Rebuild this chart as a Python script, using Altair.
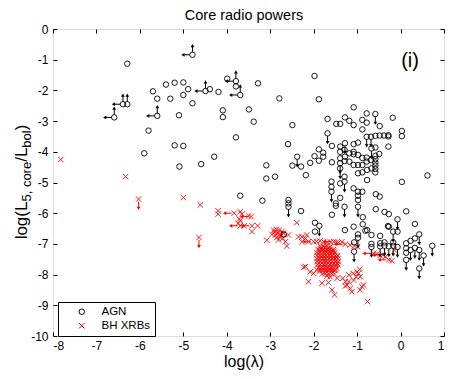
import altair as alt
import pandas as pd

# ---------------- data ----------------
# AGN: (log lambda, log L5core/Lbol, limit flag)  flags: d=upper limit, u=lower limit, l=left
agn_points = [
    (-6.29,-1.13,""),(-6.59,-2.88,"lu"),(-6.39,-2.45,"lu"),(-6.29,-2.45,"u"),(-5.60,-2.83,"lu"),
    (-5.90,-4.05,""),(-5.80,-3.31,""),(-5.70,-2.03,""),(-5.60,-2.27,""),(-5.40,-1.81,""),
    (-5.30,-2.27,""),(-5.20,-1.75,""),(-5.10,-2.81,""),(-5.20,-3.79,""),(-5.00,-3.81,""),
    (-5.09,-4.48,""),(-5.00,-1.74,""),(-4.89,-1.96,""),(-5.00,-2.15,""),(-4.79,-2.42,""),
    (-4.79,-0.84,"lu"),(-4.49,-2.02,"lu"),(-4.39,-1.96,""),(-4.19,-2.05,""),(-4.59,-4.40,""),
    (-4.29,-4.16,""),(-4.09,-2.65,""),(-4.09,-2.87,""),(-3.99,-1.62,""),(-3.79,-1.70,"lu"),
    (-3.79,-1.87,""),(-3.69,-2.15,"lu"),(-3.49,-2.62,""),(-3.79,-3.53,""),(-3.69,-5.43,""),
    (-3.28,-1.77,""),(-3.38,-3.02,""),(-3.18,-5.59,""),(-3.09,-4.44,""),(-3.09,-4.87,""),
    (-2.89,-4.81,""),(-2.79,-2.26,""),(-2.59,-3.75,""),(-2.49,-3.13,""),(-2.49,-4.45,""),
    (-2.38,-4.16,"d"),(-2.29,-4.48,""),(-2.18,-4.76,""),(-2.58,-5.57,""),(-2.58,-5.68,""),
    (-2.58,-5.79,"d"),(-2.29,-5.93,""),(-1.98,-1.53,""),(-1.88,-2.29,""),(-1.68,-2.93,""),
    (-1.68,-3.40,"d"),(-1.58,-3.81,""),(-1.48,-3.09,""),(-1.39,-3.09,""),(-1.28,-2.88,""),
    (-1.18,-2.99,""),(-1.08,-3.13,""),(-1.08,-2.55,""),(-0.88,-2.96,""),(-0.78,-3.05,""),
    (-0.78,-2.75,""),(-0.58,-2.77,"d"),(-0.48,-3.16,""),(-0.18,-2.89,""),(-0.88,-3.27,""),
    (-0.78,-3.51,"d"),(-0.68,-3.51,"d"),(-0.58,-3.48,""),(-0.48,-3.47,""),(-0.38,-3.47,""),
    (-0.28,-3.46,""),(-0.28,-3.50,""),(0.03,-3.32,""),(0.03,-3.49,""),(-0.28,-3.83,""),
    (-0.58,-3.86,""),(-0.98,-3.70,""),(-1.08,-3.75,""),(-1.39,-3.83,""),(-1.28,-3.72,"d"),
    (-1.39,-4.00,""),(-1.29,-3.94,""),(-1.08,-4.08,""),(-1.18,-4.05,""),(-1.28,-4.16,""),
    (-1.39,-4.21,""),(-1.39,-4.37,"d"),(-1.29,-4.30,""),(-1.98,-4.14,""),(-1.88,-4.29,""),
    (-1.78,-4.16,""),(-1.78,-4.03,""),(-1.88,-3.92,""),(-2.08,-4.36,""),(-1.58,-4.34,""),
    (-1.18,-4.32,""),(-1.08,-4.43,""),(-0.98,-4.43,""),(-0.88,-4.43,""),(-0.78,-4.32,""),
    (-0.68,-4.27,""),(-1.08,-4.00,""),(-0.98,-4.10,""),(-0.88,-4.20,""),(-0.78,-4.19,""),
    (-0.58,-4.13,""),(-0.58,-4.24,""),(-0.58,-4.35,""),(-0.58,-4.45,""),(-0.58,-4.56,""),
    (-0.58,-4.67,""),(-0.49,-4.07,""),(-0.67,-3.89,"d"),(-0.77,-4.59,""),(-0.67,-4.54,""),
    (-0.98,-4.70,""),(-0.88,-4.67,""),(-0.77,-4.92,""),(0.03,-4.98,""),(0.62,-4.77,""),
    (-1.39,-4.54,"d"),(-1.29,-4.81,""),(-1.29,-4.97,"d"),(-1.39,-5.03,""),(-1.59,-4.97,""),
    (-1.59,-5.14,""),(-1.59,-5.30,"d"),(-1.08,-5.19,""),(-0.98,-5.30,""),(-0.98,-5.43,""),
    (-0.98,-5.57,""),(-0.98,-5.79,"d"),(-0.88,-5.30,""),(-1.39,-5.50,""),(-1.49,-5.68,""),
    (-1.49,-5.76,""),(-1.29,-5.79,"d"),(-1.58,-6.05,""),(-0.57,-5.38,""),(-0.48,-5.46,""),
    (-0.57,-5.87,""),(-0.37,-5.96,""),(-0.27,-6.03,""),(0.13,-5.94,""),(-1.97,-6.31,""),
    (-1.97,-6.60,""),(-1.87,-6.41,"d"),(-1.28,-6.55,""),(-1.08,-6.44,""),(-0.98,-6.69,""),
    (-0.87,-6.36,""),(-0.77,-6.55,""),(-0.67,-6.71,""),(-0.87,-6.13,""),(-0.27,-6.44,""),
    (-0.47,-6.74,""),(-0.17,-6.60,"d"),(-0.07,-6.60,""),(-0.07,-6.20,"d"),(0.33,-6.35,""),
    (0.43,-6.69,"d"),(0.13,-6.98,""),(0.23,-6.90,""),(0.33,-6.82,""),(0.13,-7.14,""),
    (0.13,-7.29,""),(0.13,-7.52,"d"),(0.23,-7.20,"d"),(0.33,-7.13,"d"),(0.43,-7.20,"d"),
    (0.43,-7.80,"d"),(0.53,-7.38,"d"),(0.73,-7.06,"d"),(-1.07,-6.95,""),(-1.07,-7.25,"d"),
    (-0.98,-6.80,"d"),(-0.67,-7.00,""),(-0.67,-7.10,"d"),(-0.47,-6.98,""),(-0.47,-7.08,"d"),
    (-0.37,-6.95,""),(-0.37,-7.06,"d"),(-0.27,-7.08,"d"),(-0.17,-6.95,""),(-0.17,-7.06,"d"),
    (-0.07,-7.10,"d"),(-0.29,-6.42,""),(-0.81,-6.57,""),(-2.69,-6.69,""),
]

# BH XRBs: scattered points (with limit flags)
xrb_points = [
    (-7.82,-4.25,""),(-6.33,-4.81,""),(-6.03,-5.54,"d"),(-5.00,-5.49,""),(-4.61,-5.73,""),
    (-4.64,-6.79,"d"),(-4.20,-5.92,""),(-4.20,-6.03,""),(-3.83,-6.00,"l"),(-3.69,-5.95,""),
    (-3.65,-6.02,""),(-3.71,-6.19,""),(-3.69,-6.24,""),(-3.74,-6.33,""),(-3.69,-6.41,"l"),
    (-3.60,-6.41,""),(-3.50,-6.09,""),(-3.44,-6.11,"l"),(-3.42,-6.41,"l"),(-3.29,-6.41,""),
    (-3.42,-6.60,""),(-3.08,-6.88,""),
    (-2.96,-6.69,""),(-2.92,-6.55,""),(-2.86,-6.53,""),(-2.82,-6.65,""),(-2.77,-6.77,""),
    (-2.73,-6.60,""),(-2.71,-6.82,""),(-2.65,-6.93,""),(-2.62,-7.07,""),(-2.58,-6.71,""),
    (-2.81,-6.87,""),(-2.88,-6.71,""),(-2.79,-6.55,""),(-2.69,-6.65,""),(-2.85,-6.79,""),
    (-2.75,-6.70,""),(-2.90,-6.62,""),
    (-2.39,-6.31,""),(-2.35,-6.77,""),(-2.27,-6.77,""),(-2.27,-6.93,""),(-2.12,-6.93,""),
    (-2.19,-6.82,""),(-2.16,-6.71,""),
    (-2.00,-6.93,"l"),(-1.93,-6.92,""),(-1.85,-6.90,""),(-1.77,-6.93,""),(-1.69,-6.95,""),
    (-1.61,-6.94,""),(-1.54,-6.93,"l"),(-1.48,-6.95,""),(-1.43,-6.96,""),(-1.35,-6.93,""),
    (-1.27,-7.01,"l"),(-1.16,-7.04,""),(-1.06,-7.07,""),(-0.99,-7.09,""),
    (-2.23,-7.76,""),(-2.19,-7.74,""),(-2.08,-7.91,""),(-2.00,-7.96,""),(-2.12,-8.23,""),
    (-1.81,-8.28,""),(-1.66,-8.26,""),(-1.58,-8.50,""),(-1.52,-8.66,""),(-1.46,-8.12,""),
    (-1.93,-7.85,""),(-1.69,-8.05,""),(-1.62,-8.07,""),
    (-1.33,-8.12,""),(-1.27,-8.23,""),(-1.23,-8.34,""),(-1.16,-8.45,""),(-1.12,-8.56,""),
    (-1.08,-8.18,""),(-1.02,-8.07,""),(-0.97,-7.96,""),(-0.94,-7.83,""),(-0.93,-8.07,""),
    (-0.89,-8.39,""),(-0.85,-8.34,""),(-1.19,-8.01,""),(-1.09,-7.96,""),(-1.00,-7.91,""),
    (-1.27,-8.37,""),(-1.19,-8.23,""),(-0.93,-8.50,""),(-0.76,-8.88,""),
    (-0.62,-7.31,"l"),(-0.55,-7.33,""),(-0.47,-7.38,""),(-0.40,-7.36,"l"),(-0.35,-7.42,""),
    (-0.27,-7.52,"l"),(-0.20,-7.55,""),(-0.14,-7.20,""),
]

# BH XRBs: the dense core of observations near log(lambda) ~ -1.7
xrb_core = [
    (-1.85,-7.08),(-1.78,-7.08),(-1.70,-7.06),(-1.62,-7.09),
    (-1.90,-7.18),(-1.83,-7.17),(-1.76,-7.18),(-1.69,-7.16),(-1.62,-7.18),(-1.55,-7.19),
    (-1.93,-7.28),(-1.86,-7.27),(-1.79,-7.28),(-1.72,-7.26),(-1.65,-7.28),(-1.58,-7.27),(-1.51,-7.29),
    (-1.92,-7.38),(-1.85,-7.37),(-1.78,-7.38),(-1.71,-7.36),(-1.64,-7.38),(-1.57,-7.37),(-1.50,-7.39),(-1.45,-7.38),
    (-1.93,-7.48),(-1.86,-7.47),(-1.79,-7.48),(-1.72,-7.46),(-1.65,-7.48),(-1.58,-7.47),(-1.51,-7.49),(-1.44,-7.48),
    (-1.92,-7.58),(-1.85,-7.57),(-1.78,-7.58),(-1.71,-7.56),(-1.64,-7.58),(-1.57,-7.57),(-1.50,-7.59),(-1.43,-7.58),
    (-1.91,-7.68),(-1.84,-7.67),(-1.77,-7.68),(-1.70,-7.66),(-1.63,-7.68),(-1.56,-7.67),(-1.49,-7.69),(-1.44,-7.68),
    (-1.89,-7.78),(-1.82,-7.77),(-1.75,-7.78),(-1.68,-7.76),(-1.61,-7.78),(-1.54,-7.77),(-1.47,-7.79),
    (-1.86,-7.88),(-1.79,-7.87),(-1.72,-7.88),(-1.65,-7.86),(-1.58,-7.88),(-1.51,-7.87),
    (-1.80,-7.98),(-1.73,-7.97),(-1.66,-7.98),(-1.59,-7.96),(-1.52,-7.98),
    (-1.82,-7.13),(-1.74,-7.12),(-1.66,-7.13),(-1.87,-7.23),(-1.80,-7.22),(-1.73,-7.23),
    (-1.66,-7.22),(-1.59,-7.23),(-1.53,-7.24),
    (-1.89,-7.43),(-1.82,-7.42),(-1.75,-7.43),(-1.68,-7.42),(-1.61,-7.43),(-1.54,-7.44),(-1.47,-7.43),
    (-1.88,-7.63),(-1.81,-7.62),(-1.74,-7.63),(-1.67,-7.62),(-1.60,-7.63),(-1.53,-7.64),(-1.46,-7.63),
    (-1.85,-7.83),(-1.78,-7.82),(-1.71,-7.83),(-1.64,-7.82),(-1.57,-7.83),(-1.50,-7.84),
]

series_names = ["AGN", "BH XRBs"]
series_colors = ["black", "red"]
x_ticks = list(range(-8, 2))
y_ticks = list(range(-10, 1))

# ---------------- build tables ----------------
rows = []
for x, y, f in xrb_points:
    rows.append(dict(lam=x, L=y, series="BH XRBs", flag=f))
for x, y in xrb_core:
    rows.append(dict(lam=x, L=y, series="BH XRBs", flag=""))
for x, y, f in agn_points:
    rows.append(dict(lam=x, L=y, series="AGN", flag=f))
df = pd.DataFrame(rows)

DY, DX, GY, GX = 0.30, 0.22, 0.08, 0.06
segs, heads = [], []
for r in rows:
    x, y, f = r["lam"], r["L"], r["flag"]
    c = "black" if r["series"] == "AGN" else "red"
    if "d" in f:
        segs.append(dict(x=x, y=y - GY, x2=x, y2=y - DY, c=c))
        heads.append(dict(x=x, y=y - DY, d="down", c=c))
    if "u" in f:
        segs.append(dict(x=x, y=y + GY, x2=x, y2=y + DY, c=c))
        heads.append(dict(x=x, y=y + DY, d="up", c=c))
    if "l" in f:
        segs.append(dict(x=x - GX, y=y, x2=x - DX, y2=y, c=c))
        heads.append(dict(x=x - DX, y=y, d="left", c=c))
seg_df = pd.DataFrame(segs)
head_df = pd.DataFrame(heads)

W, H = 391, 307
FONT = "Liberation Sans"
xs = alt.Scale(domain=[-8, 1], nice=False, zero=False)
ys = alt.Scale(domain=[-10, 0], nice=False, zero=False)

legend = alt.Legend(orient="none", legendX=5, legendY=273, title=None,
                    strokeColor="black", fillColor="white", padding=4, rowPadding=1,
                    symbolOffset=14, labelOffset=14, labelFontSize=11.5, labelFont=FONT,
                    symbolSize=30, symbolStrokeWidth=1, cornerRadius=0, labelColor="black")

points = alt.Chart(df).mark_point(filled=False, size=30, strokeWidth=0.9, opacity=1).encode(
    x=alt.X("lam:Q", scale=xs, axis=alt.Axis(values=x_ticks, tickSize=0, domain=False, grid=False,
            labelExpr="'' + datum.value", labelFontSize=12, labelFont=FONT, labelPadding=4,
            labelColor="black", title=None)),
    y=alt.Y("L:Q", scale=ys, axis=alt.Axis(values=y_ticks, tickSize=0, domain=False, grid=False,
            labelExpr="'' + datum.value", labelFontSize=12, labelFont=FONT, labelPadding=5,
            labelColor="black", title=None)),
    color=alt.Color("series:N", scale=alt.Scale(domain=series_names, range=series_colors), legend=legend),
    shape=alt.Shape("series:N", scale=alt.Scale(domain=series_names,
                    range=["circle", "M-1,-1L1,1M-1,1L1,-1"]), legend=legend),
)

shafts = alt.Chart(seg_df).mark_rule(strokeWidth=1).encode(
    x=alt.X("x:Q", scale=xs, axis=alt.Axis(orient="top", offset=-H, values=x_ticks, labels=False,
            domain=False, grid=False, tickSize=4, tickColor="black", title=None)),
    y=alt.Y("y:Q", scale=ys, axis=alt.Axis(orient="right", offset=-W, values=y_ticks, labels=False,
            domain=False, grid=False, tickSize=4, tickColor="black", title=None)),
    x2="x2:Q", y2="y2:Q",
    color=alt.Color("c:N", scale=None),
)

def head_layer(direction, shape, with_axes=False):
    if with_axes:
        xa = alt.Axis(orient="bottom", offset=-H, values=x_ticks, labels=False, domain=False,
                      grid=False, tickSize=4, tickColor="black", title=None)
        ya = alt.Axis(orient="left", offset=-W, values=y_ticks, labels=False, domain=False,
                      grid=False, tickSize=4, tickColor="black", title=None)
    else:
        xa = None
        ya = None
    return alt.Chart(head_df).transform_filter(alt.datum.d == direction).mark_point(
        filled=True, shape=shape, size=14, opacity=1, strokeWidth=0).encode(
        x=alt.X("x:Q", scale=xs, axis=xa),
        y=alt.Y("y:Q", scale=ys, axis=ya),
        fill=alt.Fill("c:N", scale=None),
    )

one = pd.DataFrame({"a": [0]})

def txt(s, px, py, size, angle=0, align="left", baseline="alphabetic"):
    return alt.Chart(one).mark_text(text=s, font=FONT, fontSize=size, angle=angle, align=align,
                                    baseline=baseline, color="black").encode(
        x=alt.value(px), y=alt.value(py))

# y-axis title with subscripts: log(L_{5, core}/L_{bol})
M, S = 17, 13
yx, ysub = -26, -22
w1 = 2.223 * M; w2 = 3.057 * S; w3 = 0.834 * M; w4 = 1.334 * S; w5 = 0.333 * M
y0 = 153 + (w1 + w2 + w3 + w4 + w5) / 2
ytitle = [
    txt("log(L", yx, y0, M, angle=270),
    txt("5, core", ysub, y0 - w1, S, angle=270),
    txt("/L", yx, y0 - w1 - w2, M, angle=270),
    txt("bol", ysub, y0 - w1 - w2 - w3, S, angle=270),
    txt(")", yx, y0 - w1 - w2 - w3 - w4, M, angle=270),
]
others = [
    txt("(i)", 357, 32, 20, align="center", baseline="middle"),
    txt("Core radio powers", 191, -9, 14.5, align="center"),
    txt("log(λ)", 191, H + 34, 16, align="center", baseline="bottom"),
]

chart = alt.layer(
    points, shafts,
    head_layer("down", "triangle-down", with_axes=True),
    head_layer("up", "triangle-up"),
    head_layer("left", "triangle-left"),
    *others, *ytitle,
).resolve_axis(x="independent", y="independent").properties(
    width=W, height=H,
    autosize=alt.AutoSizeParams(type="none"),
    padding={"left": 45, "top": 21, "right": 6, "bottom": 35},
).configure_view(stroke="black", strokeWidth=1).configure(background="white")

chart.save("out.html", embed_options={"renderer": "svg", "actions": False})
